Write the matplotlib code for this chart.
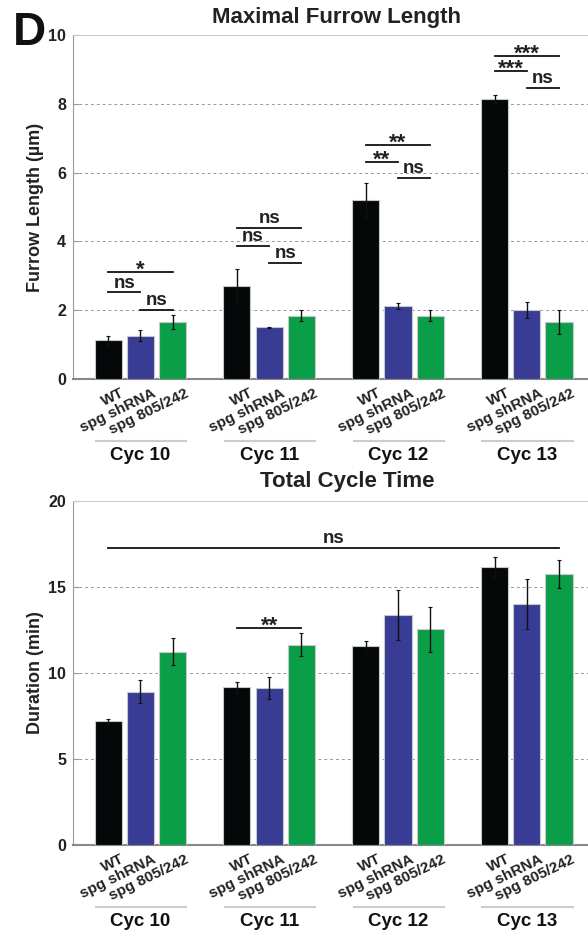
import numpy as np
import matplotlib
matplotlib.use("Agg")
import matplotlib.pyplot as plt
import matplotlib.transforms as mtransforms

plt.rcParams["font.family"] = ["Liberation Sans", "DejaVu Sans"]
plt.rcParams["font.weight"] = "bold"

ciclos = ["Cyc 10", "Cyc 11", "Cyc 12", "Cyc 13"]
genotipos = ["WT", "spg shRNA", "spg 805/242"]
colores = ["#050808", "#383c94", "#0a9e48"]

# Longitud maxima del surco (um), por ciclo: WT, shRNA, 805/242
furrow_media = [
    [1.13, 1.26, 1.66],
    [2.70, 1.50, 1.84],
    [5.20, 2.13, 1.84],
    [8.14, 2.00, 1.66],
]
furrow_err = [
    [0.13, 0.16, 0.20],
    [0.50, 0.02, 0.16],
    [0.50, 0.09, 0.16],
    [0.13, 0.23, 0.34],
]
# niveles de las barras de significancia: (WT-805, WT-shRNA, shRNA-805)
furrow_sig_y = [
    [3.11, 2.52, 2.01],
    [4.39, 3.87, 3.37],
    [6.79, 6.31, 5.84],
    [9.38, 8.95, 8.46],
]
furrow_sig_txt = [
    ["*", "ns", "ns"],
    ["ns", "ns", "ns"],
    ["**", "**", "ns"],
    ["***", "***", "ns"],
]

# Duracion total del ciclo (min)
ciclo_media = [
    [7.19, 8.91, 11.24],
    [9.17, 9.13, 11.65],
    [11.55, 13.39, 12.54],
    [16.16, 14.01, 15.76],
]
ciclo_err = [
    [0.14, 0.66, 0.77],
    [0.33, 0.65, 0.65],
    [0.30, 1.45, 1.30],
    [0.60, 1.45, 0.80],
]

GROUP_STEP = 4
ANCHO = 0.84


def posiciones():
    return np.array([[g * GROUP_STEP + i for i in range(3)] for g in range(len(ciclos))])


def dibujar_panel(ax, medias, errores, ymax, yticks, titulo, ylabel, title_x, title_y):
    pos = posiciones()
    medias = np.array(medias)
    errores = np.array(errores)
    for i in range(3):
        ax.bar(pos[:, i], medias[:, i], width=ANCHO, color=colores[i],
               edgecolor="#c8c8c8", linewidth=0.8, zorder=3)
        ax.errorbar(pos[:, i], medias[:, i], yerr=errores[:, i], fmt="none",
                    ecolor="#111111", elinewidth=1.0, capsize=1.5, capthick=0.8, zorder=4)

    ax.set_xlim(-1.09, 14.9)
    ax.set_ylim(0, ymax)
    ax.set_yticks(yticks)
    ax.set_yticklabels([str(t) for t in yticks], fontsize=11.5, fontweight="bold", color="#222222")
    for t in yticks[1:-1]:
        ax.axhline(t, color="#999999", linestyle=(0, (3, 3)), linewidth=0.7, zorder=1)
    ax.tick_params(axis="y", direction="in", length=4, color="#999999", pad=5)
    ax.tick_params(axis="x", length=0, pad=5)

    ax.spines["right"].set_visible(False)
    ax.spines["top"].set_color("#cccccc")
    ax.spines["left"].set_color("#999999")
    ax.spines["bottom"].set_color("#888888")
    ax.spines["bottom"].set_linewidth(1.5)

    ax.set_xticks(pos.ravel())
    etiquetas = genotipos * len(ciclos)
    ax.set_xticklabels(etiquetas, rotation=26, ha="right", rotation_mode="anchor",
                       fontsize=11, fontweight="bold", color="#222222")
    offset = mtransforms.ScaledTranslation(12 / 100, 0, ax.figure.dpi_scale_trans)
    for lbl in ax.get_xticklabels():
        lbl.set_transform(lbl.get_transform() + offset)

    trans = mtransforms.blended_transform_factory(ax.transData, ax.transAxes)
    for g, nombre in enumerate(ciclos):
        x0 = pos[g, 0] - 0.38
        x1 = pos[g, 2] + 0.42
        ax.plot([x0, x1], [-0.18, -0.18], color="#cccccc", linewidth=1.5,
                transform=trans, clip_on=False)
        ax.text(pos[g, 1], -0.222, nombre, transform=trans, ha="center", va="center",
                fontsize=13.5, fontweight="bold", color="#111111")

    ax.set_ylabel(ylabel, fontsize=13, fontweight="bold", color="#222222")
    ax.yaxis.set_label_coords(-0.056, 0.5)
    ax.figure.text(title_x, title_y, titulo, ha="center", va="center",
                   fontsize=16, fontweight="bold", color="#222222")


def sig(ax, x0, x1, y, texto):
    ax.plot([x0, x1], [y, y], color="#111111", linewidth=1.3, zorder=5, clip_on=False)
    if "*" in texto:
        # el asterisco de la fuente va alto: se baja para que quede sobre la linea
        ax.annotate(texto, ((x0 + x1) / 2, y), xytext=(0, -2.6), textcoords="offset points",
                    ha="center", va="baseline", fontsize=16, fontweight="bold",
                    color="#222222", zorder=5)
    else:
        ax.annotate(texto, ((x0 + x1) / 2, y), xytext=(0, 0.5), textcoords="offset points",
                    ha="center", va="bottom", fontsize=13.5, fontweight="bold",
                    color="#222222", zorder=5)


fig = plt.figure(figsize=(5.88, 9.34), dpi=100)
ax1 = fig.add_axes([73 / 588, 1 - 379 / 934, 1 - 73 / 588, 344 / 934])
ax2 = fig.add_axes([73 / 588, 1 - 845 / 934, 1 - 73 / 588, 344 / 934])

dibujar_panel(ax1, furrow_media, furrow_err, 10, [0, 2, 4, 6, 8, 10],
              "Maximal Furrow Length", "Furrow Length (µm)", 336 / 588, 1 - 18 / 934)
dibujar_panel(ax2, ciclo_media, ciclo_err, 20, [0, 5, 10, 15, 20],
              "Total Cycle Time", "Duration (min)", 347 / 588, 1 - 482 / 934)

pos = posiciones()
for g in range(len(ciclos)):
    pares = [(pos[g, 0], pos[g, 2]), (pos[g, 0], pos[g, 1]), (pos[g, 1], pos[g, 2])]
    for (a, b), y, txt in zip(pares, furrow_sig_y[g], furrow_sig_txt[g]):
        sig(ax1, a, b, y, txt)

sig(ax2, pos[0, 0], pos[3, 2], 17.29, "ns")
sig(ax2, pos[1, 0], pos[1, 2], 12.63, "**")

fig.text(0.022, 0.988, "D", ha="left", va="top", fontsize=33, fontweight="bold", color="#111111")

fig.savefig("out.png", dpi=100)
